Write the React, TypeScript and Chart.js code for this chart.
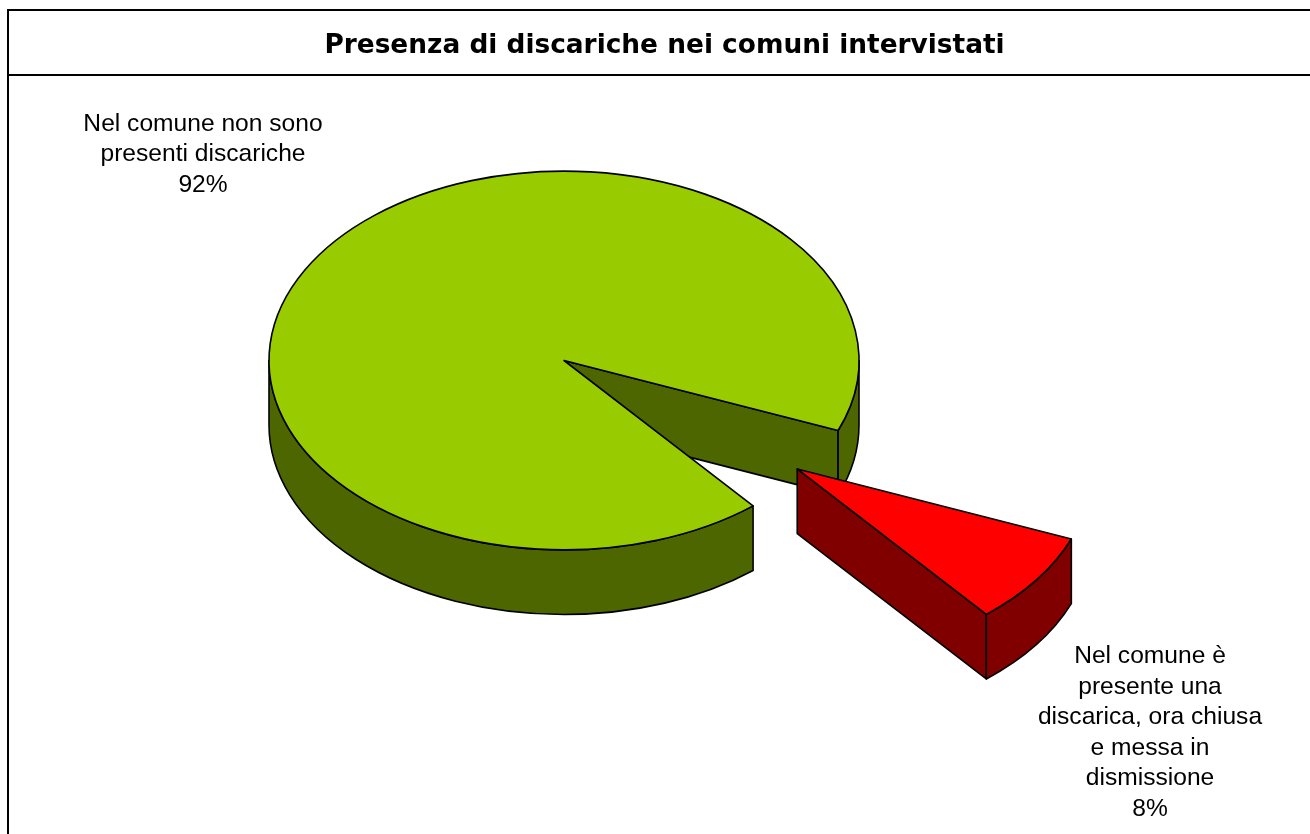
import React, { useEffect, useRef } from "react";
import { Chart, registerables } from "chart.js";

Chart.register(...registerables);

const titleText = "Presenza di discariche nei comuni intervistati";
const categories = [
  "Nel comune è presente una discarica, ora chiusa e messa in dismissione",
  "Nel comune non sono presenti discariche",
];
const values = [7.9, 92.1];
const topColors = ["#FF0000", "#99CC00"];
const sideColors = ["#800000", "#4D6600"];
const explode = [288, 0];
const labelLines = [
  ["Nel comune è", "presente una", "discarica, ora chiusa", "e messa in", "dismissione", "8%"],
  ["Nel comune non sono", "presenti discariche", "92%"],
];

const SQUASH = 0.642;
const DEPTH = 64.6;
const TAU = Math.PI * 2;

const labelAnchors = [
  { x: 1150, y: 663 },
  { x: 203, y: 130.7 },
];

function drawSlice(ctx: CanvasRenderingContext2D, el: any, fill: string, side: string, off: number) {
  const { x, y, startAngle: s, endAngle: e, outerRadius: r } = el;
  const mid = (s + e) / 2;
  const cx = x + Math.cos(mid) * off;
  const cy = y + Math.sin(mid) * off * SQUASH;
  const ry = r * SQUASH;
  const px = (a: number) => cx + Math.cos(a) * r;
  const py = (a: number) => cy + Math.sin(a) * ry;
  ctx.lineWidth = 1.6;
  ctx.strokeStyle = "#000";
  ctx.lineJoin = "round";

  // flat cut walls that face the viewer
  const wall = (a: number) => {
    ctx.beginPath();
    ctx.moveTo(cx, cy);
    ctx.lineTo(px(a), py(a));
    ctx.lineTo(px(a), py(a) + DEPTH);
    ctx.lineTo(cx, cy + DEPTH);
    ctx.closePath();
    ctx.fillStyle = side;
    ctx.fill();
    ctx.stroke();
  };
  if (Math.sin(s - Math.PI / 2) > 0) wall(s);
  if (Math.sin(e + Math.PI / 2) > 0) wall(e);

  // curved outer walls on the front half
  for (let k = -1; k < 3; k++) {
    const a0 = Math.max(s, k * TAU);
    const a1 = Math.min(e, k * TAU + Math.PI);
    if (a1 <= a0) continue;
    ctx.beginPath();
    ctx.ellipse(cx, cy, r, ry, 0, a0, a1);
    ctx.lineTo(px(a1), py(a1) + DEPTH);
    ctx.ellipse(cx, cy + DEPTH, r, ry, 0, a1, a0, true);
    ctx.closePath();
    ctx.fillStyle = side;
    ctx.fill();
    ctx.stroke();
  }

  // top face
  ctx.beginPath();
  ctx.moveTo(cx, cy);
  ctx.ellipse(cx, cy, r, ry, 0, s, e);
  ctx.closePath();
  ctx.fillStyle = fill;
  ctx.fill();
  ctx.stroke();
}

const pie3d = {
  id: "pie3d",
  beforeDraw(chart: any) {
    const { ctx } = chart;
    ctx.save();
    ctx.fillStyle = "#000";
    ctx.fillRect(7, 9, 1303, 2);
    ctx.fillRect(7, 74, 1303, 2);
    ctx.fillRect(7, 9, 2, 825);
    ctx.restore();
    if (chart.titleBlock) {
      chart.titleBlock.left = 19;
      chart.titleBlock.right = 1310;
    }
  },
  beforeDatasetDraw(chart: any) {
    const { ctx } = chart;
    const arcs = chart.getDatasetMeta(0).data;
    ctx.save();
    for (let i = arcs.length - 1; i >= 0; i--) {
      drawSlice(ctx, arcs[i], topColors[i], sideColors[i], explode[i]);
    }
    ctx.font = '24.6px "Liberation Sans"';
    ctx.fillStyle = "#000";
    ctx.textAlign = "center";
    ctx.textBaseline = "alphabetic";
    labelLines.forEach((lines, i) => {
      lines.forEach((line, j) => {
        ctx.fillText(line, labelAnchors[i].x, labelAnchors[i].y + j * 30.5);
      });
    });
    ctx.restore();
    return false;
  },
};

export default function App() {
  const ref = useRef<HTMLCanvasElement>(null);
  useEffect(() => {
    const chart = new Chart(ref.current!, {
      type: "pie",
      data: {
        labels: categories,
        datasets: [
          {
            data: values,
            backgroundColor: topColors,
            borderColor: "#000",
            borderWidth: 1,
          },
        ],
      },
      options: {
        responsive: false,
        animation: false,
        events: [],
        rotation: 111.7,
        radius: 295,
        layout: { padding: { left: 0, right: 182, top: 0, bottom: 187 } },
        plugins: {
          legend: { display: false },
          tooltip: { enabled: false },
          title: {
            display: true,
            text: titleText,
            color: "#000",
            font: { family: '"DejaVu Sans"', size: 26.4, weight: "bold", lineHeight: 1.2 },
            padding: { top: 30, bottom: 12.32 },
          },
        },
      },
      plugins: [pie3d],
    } as any);
    return () => chart.destroy();
  }, []);
  return (
    <canvas
      ref={ref}
      width={1310}
      height={834}
      style={{ position: "fixed", left: 0, top: 0, display: "block" }}
    />
  );
}
